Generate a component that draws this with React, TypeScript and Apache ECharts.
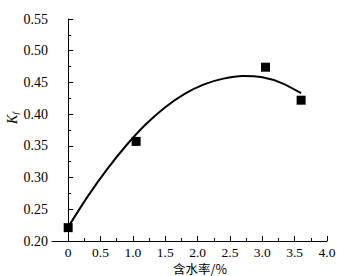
import React, { useEffect, useRef } from "react";
import * as echarts from "echarts";

const measuredX = [0, 1.05, 3.05, 3.6];
const measuredK = [0.221, 0.357, 0.474, 0.422];

const fitX = [0, 0.3, 0.6, 0.9, 1.2, 1.5, 1.8, 2.1, 2.4, 2.7, 3.0, 3.3, 3.6];
const fitK = [0.222, 0.27, 0.313, 0.351, 0.384, 0.411, 0.432, 0.447, 0.456, 0.46, 0.458, 0.449, 0.433];

const xMajorTicks = [0, 0.5, 1.0, 1.5, 2.0, 2.5, 3.0, 3.5, 4.0];
const xMinorTicks = [0.25, 0.75, 1.25, 1.75, 2.25, 2.75, 3.25, 3.75];

const xName = "含水率/%";

const FONT = "Liberation Serif";

export default function App() {
  const ref = useRef<HTMLDivElement>(null);
  useEffect(() => {
    const chart = echarts.init(ref.current!, null, { renderer: "svg" });
    chart.setOption({
      animation: false,
      backgroundColor: "#ffffff",
      grid: { left: 52, right: 21, top: 19, bottom: 35, outerBoundsMode: "none", containLabel: false },
      xAxis: [
        {
          type: "value",
          min: -0.25,
          max: 4,
          axisLine: { show: true, lineStyle: { color: "#000", width: 1 } },
          axisTick: {
            show: true,
            inside: true,
            length: 5,
            customValues: xMajorTicks,
            lineStyle: { color: "#000" },
          },
          axisLabel: {
            customValues: xMajorTicks,
            formatter: (v: number) => (v === 0 ? "0" : v.toFixed(1)),
            color: "#000",
            fontFamily: FONT,
            fontSize: 13.5,
            lineHeight: 14,
            margin: 4,
          },
          splitLine: { show: false },
        },
        {
          type: "value",
          min: -0.25,
          max: 4,
          position: "bottom",
          axisLine: { show: false },
          axisTick: {
            show: true,
            inside: true,
            length: 3,
            customValues: xMinorTicks,
            lineStyle: { color: "#000" },
          },
          axisLabel: { show: false },
          splitLine: { show: false },
        },
      ],
      yAxis: {
        type: "value",
        min: 0.2,
        max: 0.55,
        interval: 0.05,
        axisLine: { show: true, lineStyle: { color: "#000", width: 1 } },
        axisTick: { show: true, inside: true, length: 5, lineStyle: { color: "#000" } },
        minorTick: { show: true, splitNumber: 2, length: 3, lineStyle: { color: "#000" } },
        axisLabel: {
          formatter: (v: number) => v.toFixed(2),
          color: "#000",
          fontFamily: FONT,
          fontSize: 14,
          margin: 4,
        },
        splitLine: { show: false },
      },
      graphic: [
        {
          type: "text",
          x: 200,
          y: 268,
          style: {
            text: xName,
            textAlign: "center",
            textVerticalAlign: "middle",
            fontFamily: "Noto Sans CJK SC",
            fontSize: 12.5,
            lineHeight: 14,
            fill: "#000",
          },
        },
        {
          type: "text",
          x: 12,
          y: 118,
          rotation: Math.PI / 2,
          style: {
            text: "{k|K}{f|f}",
            textAlign: "center",
            textVerticalAlign: "middle",
            rich: {
              k: { fontFamily: FONT, fontStyle: "italic", fontSize: 14, fill: "#000" },
              f: {
                fontFamily: FONT,
                fontStyle: "italic",
                fontSize: 9,
                fill: "#000",
                verticalAlign: "bottom",
                padding: [6, 0, 0, 0],
              },
            },
          },
        },
      ],
      series: [
        {
          type: "line",
          xAxisIndex: 0,
          data: fitX.map((x, i) => [x, fitK[i]]),
          smooth: 0.3,
          showSymbol: false,
          lineStyle: { color: "#000", width: 2 },
          z: 2,
        },
        {
          type: "scatter",
          xAxisIndex: 0,
          data: measuredX.map((x, i) => [x, measuredK[i]]),
          symbol: "rect",
          symbolSize: 9,
          itemStyle: { color: "#000", opacity: 1 },
          z: 3,
        },
      ],
    });
    return () => chart.dispose();
  }, []);
  return <div ref={ref} style={{ width: 348, height: 276, position: "absolute", left: 0, top: 0 }} />;
}
